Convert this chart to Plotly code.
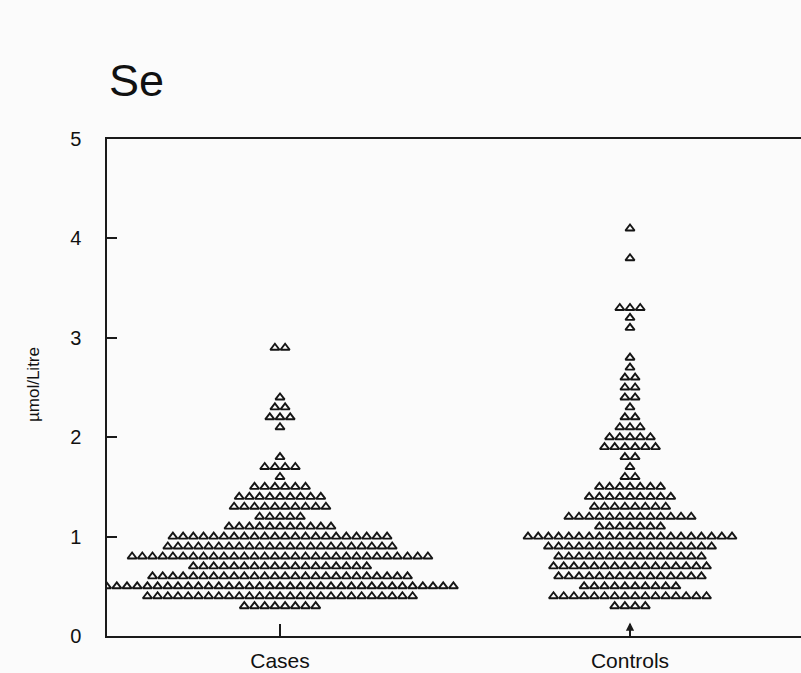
import plotly.graph_objects as go

# Selenium, µmol/Litre: each level (0.1 steps) and how many subjects sit at it
case_levels = [2.9, 2.4, 2.3, 2.2, 2.1, 1.8, 1.7, 1.6, 1.5, 1.4, 1.3, 1.2, 1.1,
               1.0, 0.9, 0.8, 0.7, 0.6, 0.5, 0.4, 0.3]
case_counts = [2, 1, 2, 3, 1, 1, 4, 1, 6, 9, 10, 5, 11,
               22, 23, 30, 18, 26, 35, 27, 8]

control_levels = [4.1, 3.8, 3.3, 3.2, 3.1, 2.8, 2.7, 2.6, 2.5, 2.4, 2.3, 2.2, 2.1,
                  2.0, 1.9, 1.8, 1.7, 1.6, 1.5, 1.4, 1.3, 1.2, 1.1,
                  1.0, 0.9, 0.8, 0.7, 0.6, 0.5, 0.4, 0.3]
control_counts = [1, 1, 3, 1, 1, 1, 1, 2, 2, 2, 1, 2, 3,
                  5, 6, 2, 1, 2, 7, 9, 8, 13, 7,
                  21, 17, 15, 16, 15, 10, 16, 4]

groups = ["Cases", "Controls"]
y_ticks = [0, 1, 2, 3, 4, 5]

W, H = 801, 673
ML, MR, MT, MB = 107, 0, 139, 37
plot_w = W - ML - MR
plot_h = H - MT - MB

# x range chosen so the group centres land where the axis ticks are
px_per_unit = 350.0
x_lo = -(280 - ML) / px_per_unit
x_hi = x_lo + plot_w / px_per_unit
step = 10.2 / px_per_unit  # horizontal spacing between neighbouring symbols


def swarm(center, levels, counts):
    xs, ys = [], []
    for lv, n in zip(levels, counts):
        for i in range(n):
            xs.append(center + (i - (n - 1) / 2) * step)
            ys.append(lv)
    return xs, ys


fig = go.Figure()
for gi, (lv, ct) in enumerate([(case_levels, case_counts),
                               (control_levels, control_counts)]):
    xs, ys = swarm(gi, lv, ct)
    fig.add_trace(go.Scatter(
        x=xs, y=ys, mode="markers",
        marker=dict(symbol="triangle-up-open", size=8, color="#151515",
                    line=dict(width=1.9, color="#151515")),
        showlegend=False, hoverinfo="skip"))

font_family = "Liberation Sans, Arial, Helvetica, sans-serif"

fig.update_layout(
    width=W, height=H,
    margin=dict(l=ML, r=MR, t=MT, b=MB, pad=0),
    paper_bgcolor="#fbfbfb", plot_bgcolor="#fbfbfb",
    font=dict(family=font_family, color="#1a1a1a"),
    showlegend=False,
)

fig.update_xaxes(
    range=[x_lo, x_hi], tickvals=[0, 1], ticktext=groups,
    ticks="inside", ticklen=12, tickwidth=1.5, tickcolor="#1a1a1a",
    showline=True, linecolor="#1a1a1a", linewidth=1.5, mirror=True,
    showgrid=False, zeroline=False,
    tickfont=dict(size=21, family=font_family, color="#111"),
    ticklabelstandoff=5,
)
fig.update_yaxes(
    range=[0, 5], tickvals=y_ticks,
    ticks="inside", ticklen=10, tickwidth=1.5, tickcolor="#1a1a1a",
    showline=True, linecolor="#1a1a1a", linewidth=1.5, mirror=False,
    showgrid=False, zeroline=False,
    tickfont=dict(size=20, family=font_family, color="#111"),
    ticklabelstandoff=20,
)

# Arrowhead marking the Controls position on the baseline
fig.add_annotation(
    x=1, y=0.135, xref="x", yref="y", text="",
    showarrow=True, arrowhead=2, arrowsize=1.1, arrowwidth=1.5,
    arrowcolor="#1a1a1a", ax=0, ay=13,
)

# Panel title
fig.add_annotation(
    x=0.0, y=1 + 58 / plot_h, xref="paper", yref="paper",
    text="Se", showarrow=False, xanchor="left", yanchor="middle",
    font=dict(size=45, family=font_family, color="#111"),
)

# Axis title
fig.add_annotation(
    x=(33 - ML) / plot_w, y=(H - MB - 385) / plot_h, xref="paper", yref="paper",
    text="µmol/Litre", textangle=-90, showarrow=False,
    xanchor="center", yanchor="middle",
    font=dict(size=17, family=font_family, color="#111"),
)

fig.write_html("out.html")
